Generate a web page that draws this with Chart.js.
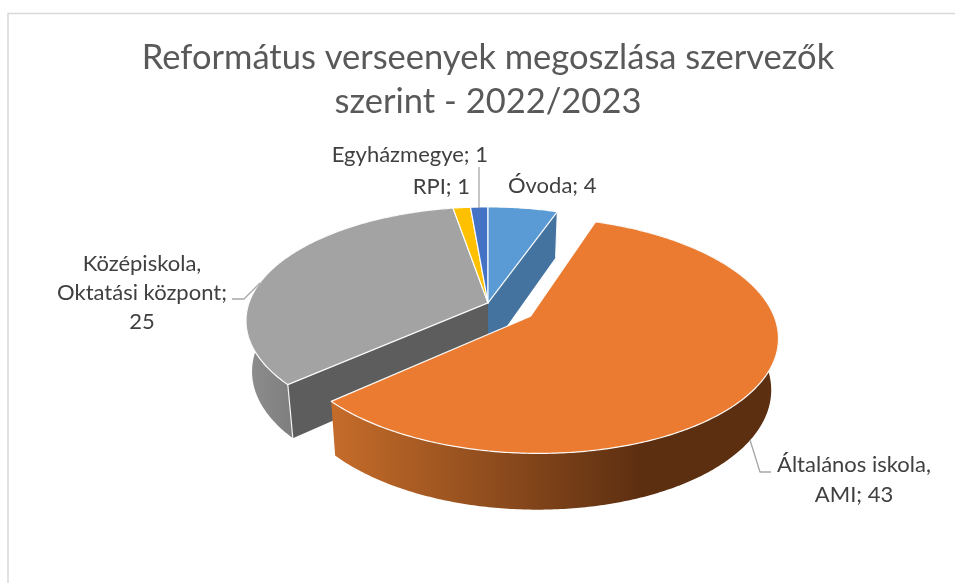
<!DOCTYPE html>
<html lang="hu">
<head>
<meta charset="utf-8">
<style>html,body{margin:0;padding:0;background:#fff}canvas{display:block}</style>
<script src="https://cdn.jsdelivr.net/npm/chart.js@4"></script>
</head>
<body>
<canvas id="c" width="955" height="583"></canvas>
<script>
const titleLines = ['Református verseenyek megoszlása szervezők', 'szerint - 2022/2023'];
const categories = ['Óvoda', 'Általános iskola, AMI', 'Középiskola, Oktatási központ', 'RPI', 'Egyházmegye'];
const values = [4, 43, 25, 1, 1];
const colors = ['#5b9bd5', '#ea7b30', '#a3a3a3', '#ffc000', '#4472c4'];
const offsets = [0, 34, 0, 0, 0];

/* label placement: anchor x, first baseline y, line step, alignment, line breaks */
const labelLayout = [
  {x: 508, y: 193, step: 30, align: 'left', lines: v => ['Óvoda; ' + v]},
  {x: 854, y: 472, step: 30, align: 'center', lines: v => ['Általános iskola,', 'AMI; ' + v]},
  {x: 142, y: 271, step: 29, align: 'center', lines: v => ['Középiskola,', 'Oktatási központ;', '' + v]},
  {x: 470, y: 194, step: 30, align: 'right', lines: v => ['RPI; ' + v]},
  {x: 488, y: 162, step: 30, align: 'right', lines: v => ['Egyházmegye; ' + v]}
];
const leaders = [
  [[479, 167], [479, 208]],
  [[232, 299], [244, 299], [260, 283]],
  [[750, 440], [760, 472], [771, 472]]
];

const view = {rx: 239, ry: 111, p: 0.157, h: 50, q: 0.1, k: 0.025};

function project(cx, cy, u, v, low) {
  const w = 1 - view.p * v;
  const shrink = low ? 1 - view.k : 1;
  return [
    cx + view.rx * u / w * shrink,
    cy + view.ry * v / w + (low ? view.h / (1 - view.q * v) : 0)
  ];
}

function sliceGeom(arc) {
  const p = arc.getProps(['x', 'y', 'startAngle', 'endAngle', 'outerRadius']);
  const d = arc.options.offset / p.outerRadius;
  const mid = (p.startAngle + p.endAngle) / 2;
  return {cx: p.x, cy: p.y, s: p.startAngle, e: p.endAngle,
          u0: Math.cos(mid) * d, v0: Math.sin(mid) * d};
}

function rim(g, low) {
  const pts = [];
  const n = Math.max(4, Math.ceil((g.e - g.s) * 90));
  for (let i = 0; i <= n; i++) {
    const a = g.s + (g.e - g.s) * i / n;
    pts.push(project(g.cx, g.cy, g.u0 + Math.cos(a), g.v0 + Math.sin(a), low));
  }
  return pts;
}

function trace(ctx, pts) {
  ctx.beginPath();
  pts.forEach((q, i) => i ? ctx.lineTo(q[0], q[1]) : ctx.moveTo(q[0], q[1]));
  ctx.closePath();
}

function wall(ctx, g, fill) {
  const top = rim(g, false), low = rim(g, true).reverse();
  trace(ctx, top.concat(low));
  ctx.fillStyle = fill;
  ctx.fill();
}

function cutFace(ctx, g, angle, fill) {
  const u = g.u0 + Math.cos(angle), v = g.v0 + Math.sin(angle);
  const pts = [
    project(g.cx, g.cy, g.u0, g.v0, false),
    project(g.cx, g.cy, u, v, false),
    project(g.cx, g.cy, u, v, true),
    project(g.cx, g.cy, g.u0, g.v0, true)
  ];
  trace(ctx, pts);
  ctx.fillStyle = fill;
  ctx.fill();
  ctx.beginPath();
  ctx.moveTo(pts[1][0], pts[1][1]);
  ctx.lineTo(pts[2][0], pts[2][1]);
  ctx.strokeStyle = 'rgba(255,255,255,0.9)';
  ctx.lineWidth = 1.2;
  ctx.stroke();
}

function topFace(ctx, g, fill) {
  const pts = [project(g.cx, g.cy, g.u0, g.v0, false)].concat(rim(g, false));
  trace(ctx, pts);
  ctx.fillStyle = fill;
  ctx.fill();
  ctx.strokeStyle = 'rgba(255,255,255,0.95)';
  ctx.lineWidth = 1.2;
  ctx.lineJoin = 'round';
  ctx.stroke();
}

const pie3d = {
  id: 'pie3d',
  beforeDraw(chart) {
    const ctx = chart.ctx;
    ctx.save();
    ctx.strokeStyle = '#d9d9d9';
    ctx.lineWidth = 1.5;
    ctx.beginPath();
    ctx.moveTo(8, 583);
    ctx.lineTo(8, 13.5);
    ctx.lineTo(955, 13.5);
    ctx.stroke();
    ctx.restore();
  },
  beforeDatasetsDraw(chart) {
    const ctx = chart.ctx;
    const geo = chart.getDatasetMeta(0).data.map(sliceGeom);
    ctx.save();

    const grayGrad = ctx.createLinearGradient(247, 0, 295, 0);
    grayGrad.addColorStop(0, '#8e8e8e');
    grayGrad.addColorStop(1, '#7d7d7d');
    const orangeGrad = ctx.createLinearGradient(333, 0, 640, 0);
    orangeGrad.addColorStop(0, '#c56c2a');
    orangeGrad.addColorStop(1, '#5d2f11');

    wall(ctx, geo[2], grayGrad);
    cutFace(ctx, geo[2], geo[2].s, '#5d5d5d');
    cutFace(ctx, geo[0], geo[0].e, '#44739f');

    [2, 3, 4, 0].forEach(i => topFace(ctx, geo[i], colors[i]));

    wall(ctx, geo[1], orangeGrad);
    topFace(ctx, geo[1], colors[1]);

    ctx.strokeStyle = '#a6a6a6';
    ctx.lineWidth = 1.3;
    leaders.forEach(line => {
      ctx.beginPath();
      line.forEach((q, i) => i ? ctx.lineTo(q[0], q[1]) : ctx.moveTo(q[0], q[1]));
      ctx.stroke();
    });

    ctx.fillStyle = '#404040';
    ctx.font = '22px Lato';
    ctx.textBaseline = 'alphabetic';
    labelLayout.forEach((l, i) => {
      ctx.textAlign = l.align;
      l.lines(values[i]).forEach((t, j) => ctx.fillText(t, l.x, l.y + j * l.step));
    });
    ctx.restore();
    return false;
  }
};

new Chart(document.getElementById('c'), {
  type: 'pie',
  data: {
    labels: categories,
    datasets: [{data: values, backgroundColor: colors, offset: offsets, borderWidth: 0, hoverOffset: 0}]
  },
  options: {
    responsive: false,
    animation: false,
    layout: {padding: {left: 21, right: 0, top: 0, bottom: 102}},
    events: [],
    plugins: {
      legend: {display: false},
      tooltip: {enabled: false},
      title: {
        display: true,
        text: titleLines,
        color: '#595959',
        font: {family: 'Lato', size: 34.5, weight: 'normal', lineHeight: 1.3},
        padding: {top: 35, bottom: 0}
      }
    }
  },
  plugins: [pie3d]
});
</script>
</body>
</html>
